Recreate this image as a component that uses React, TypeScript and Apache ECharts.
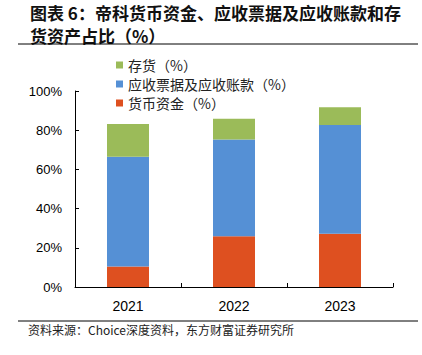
import React, { useEffect, useRef } from "react";
import * as echarts from "echarts";

const categories = ["2021", "2022", "2023"];
const cashShare = [10.4, 25.9, 27.2];
const receivablesShare = [56.1, 49.3, 55.5];
const inventoryShare = [16.7, 10.7, 9.0];
const seriesNames = ["货币资金（%）", "应收票据及应收账款（%）", "存货（%）"];
const legendOrder = ["存货（%）", "应收票据及应收账款（%）", "货币资金（%）"];
const titleLines = ["图表 6：帝科货币资金、应收票据及应收账款和存", "货资产占比（%）"];
const sourceText = "资料来源：Choice深度资料，东方财富证券研究所";

export default function App() {
  const ref = useRef<HTMLDivElement>(null);
  useEffect(() => {
    if (!ref.current) return;
    const chart = echarts.init(ref.current, undefined, { renderer: "svg" });
    const colors = ["#DE5020", "#5590D5", "#9BBB59"];
    const datasets = [cashShare, receivablesShare, inventoryShare];
    chart.setOption({
      animation: false,
      backgroundColor: "#ffffff",
      grid: { left: 75, right: 29, top: 91, bottom: 68 },
      legend: {
        data: legendOrder,
        orient: "vertical",
        left: 111,
        top: 53,
        itemWidth: 7,
        itemHeight: 7,
        itemGap: 5,
        icon: "rect",
        textStyle: { fontFamily: "Noto Sans CJK SC", fontSize: 14, color: "#222" },
      },
      xAxis: {
        type: "category",
        data: categories,
        axisLine: { lineStyle: { color: "#000", width: 1 } },
        axisTick: { show: true, inside: true, length: 4, alignWithLabel: false, lineStyle: { color: "#000" } },
        axisLabel: { fontFamily: "Liberation Sans", fontSize: 14, color: "#000", margin: 12 },
      },
      yAxis: {
        type: "value",
        min: 0,
        max: 100,
        interval: 20,
        axisLine: { show: true, lineStyle: { color: "#000", width: 1 } },
        axisTick: { show: true, inside: true, length: 4, lineStyle: { color: "#000" } },
        splitLine: { show: false },
        axisLabel: { formatter: "{value}%", fontFamily: "Liberation Sans", fontSize: 13, color: "#000", margin: 13 },
      },
      series: seriesNames.map((name, i) => ({
        name,
        type: "bar",
        stack: "total",
        barWidth: 42,
        data: datasets[i],
        itemStyle: { color: colors[i] },
      })),
      graphic: [
        {
          type: "text",
          left: 30,
          top: 4,
          style: {
            text: titleLines[0],
            font: "bold 17px 'Noto Sans CJK SC'",
            fill: "#111",
          },
        },
        {
          type: "text",
          left: 30,
          top: 27,
          style: {
            text: titleLines[1],
            font: "bold 17px 'Noto Sans CJK SC'",
            fill: "#111",
          },
        },
        {
          type: "line",
          shape: { x1: 18, y1: 44, x2: 418, y2: 44 },
          style: { stroke: "#000", lineWidth: 1 },
        },
        {
          type: "line",
          shape: { x1: 18, y1: 321, x2: 418, y2: 321 },
          style: { stroke: "#000", lineWidth: 1 },
        },
        {
          type: "text",
          left: 28,
          top: 323,
          style: {
            text: sourceText,
            font: "12px 'Noto Sans CJK SC'",
            fill: "#222",
          },
        },
      ],
    });
    return () => chart.dispose();
  }, []);
  return <div ref={ref} style={{ width: 422, height: 355, position: "absolute", left: 0, top: 0 }} />;
}
